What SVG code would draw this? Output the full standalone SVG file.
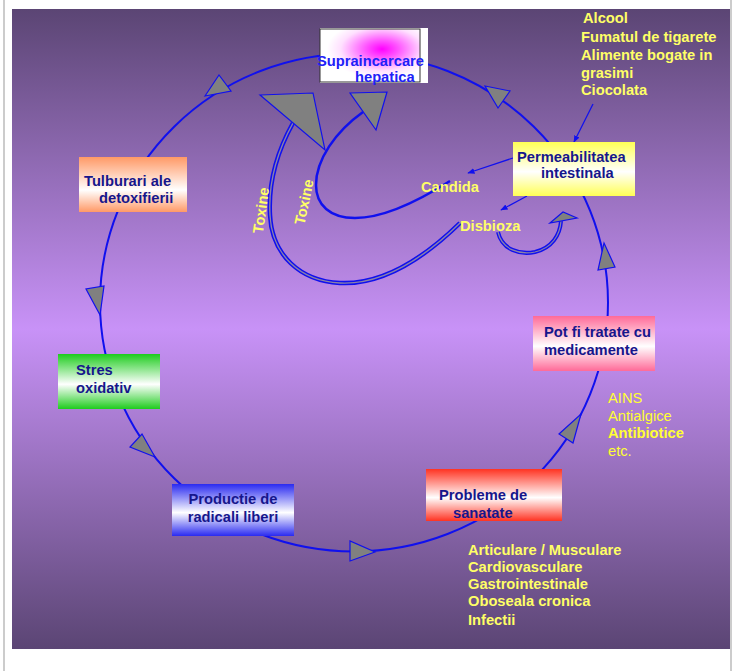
<svg xmlns="http://www.w3.org/2000/svg" width="740" height="671" viewBox="0 0 740 671">
<defs>
<linearGradient id="bg" x1="0" y1="0" x2="0" y2="1">
<stop offset="0" stop-color="#5b4574"/><stop offset="0.5" stop-color="#c892f7"/><stop offset="1" stop-color="#5b4574"/>
</linearGradient>
<linearGradient id="gY" x1="0" y1="0" x2="0" y2="1"><stop offset="0" stop-color="#ffff55"/><stop offset="0.55" stop-color="#ffffff"/><stop offset="1" stop-color="#ffff55"/></linearGradient>
<linearGradient id="gO" x1="0" y1="0" x2="0" y2="1"><stop offset="0" stop-color="#ff9966"/><stop offset="0.6" stop-color="#ffffff"/><stop offset="1" stop-color="#ff9966"/></linearGradient>
<linearGradient id="gG" x1="0" y1="0" x2="0" y2="1"><stop offset="0" stop-color="#1ecc1e"/><stop offset="0.55" stop-color="#ffffff"/><stop offset="1" stop-color="#1ecc1e"/></linearGradient>
<linearGradient id="gB" x1="0" y1="0" x2="0" y2="1"><stop offset="0" stop-color="#2a2af0"/><stop offset="0.55" stop-color="#ffffff"/><stop offset="1" stop-color="#2a2af0"/></linearGradient>
<linearGradient id="gR" x1="0" y1="0" x2="0" y2="1"><stop offset="0" stop-color="#ff3322"/><stop offset="0.55" stop-color="#ffffff"/><stop offset="1" stop-color="#ff3322"/></linearGradient>
<linearGradient id="gP" x1="0" y1="0" x2="0" y2="1"><stop offset="0" stop-color="#ff6a98"/><stop offset="0.55" stop-color="#ffffff"/><stop offset="1" stop-color="#ff6a98"/></linearGradient>
<radialGradient id="gM" cx="0.62" cy="0.38" r="0.55"><stop offset="0" stop-color="#ff00ff"/><stop offset="0.3" stop-color="#ff55ff"/><stop offset="0.75" stop-color="#ffe0ff"/><stop offset="1" stop-color="#ffffff"/></radialGradient>
<marker id="ah" viewBox="0 0 10 10" refX="9" refY="5" markerWidth="6" markerHeight="6" orient="auto"><path d="M0,1 L10,5 L0,9 z" fill="#1010ee"/></marker>
</defs>
<style>
.nt{font-family:"Liberation Sans",Arial,sans-serif;font-weight:bold;font-size:14.7px;fill:#16168c}
.yt{font-family:"Liberation Sans",Arial,sans-serif;font-weight:bold;font-size:14.7px;fill:#ffff66}
.yr{font-family:"Liberation Sans",Arial,sans-serif;font-size:14.7px;fill:#ffff33}
.ln{fill:none;stroke:#1010ee}
.tri{fill:#808080;stroke:#1010ee;stroke-width:1.2;stroke-linejoin:miter}
</style>
<rect x="0" y="0" width="740" height="671" fill="#ffffff"/>
<rect x="12" y="9" width="718" height="640" fill="url(#bg)"/>
<line x1="4" y1="0" x2="4" y2="671" stroke="#999999" stroke-width="1"/>
<line x1="731" y1="0" x2="731" y2="671" stroke="#999999" stroke-width="1"/>

<g id="connectors">
<ellipse class="ln" cx="354" cy="302.5" rx="254" ry="249" stroke-width="2"/>
<polygon class="tri" points="205,96 219,75 231,91"/>
<polygon class="tri" points="485,86 510,91 498,108"/>
<polygon class="tri" points="604,243 615,267 598,270"/>
<polygon class="tri" points="581,414 573,443 559,434"/>
<polygon class="tri" points="375,552 350,561 350,541"/>
<polygon class="tri" points="155,457 130,447 142,434"/>
<polygon class="tri" points="100,315 86,289 104,286"/>
<path class="ln" d="M460,223 C420,262 380,285 340,283 C300,281 272,255 270,215 C268,180 278,150 293,123" stroke-width="4.5"/>
<path d="M460,223 C420,262 380,285 340,283 C300,281 272,255 270,215 C268,180 278,150 293,123" fill="none" stroke="#8a82a8" stroke-width="1.4"/>
<polygon class="tri" points="260,95 313,93 325,150"/>
<path class="ln" d="M450,181 C420,200 385,218 355,218 C330,218 316,205 316,185 C316,160 335,132 363,112" stroke-width="2.5"/>
<polygon class="tri" points="350,93 387,92 376,130"/>
<path class="ln" d="M498,232 C502,250 520,255 535,252 C552,248 560,235 561,221" stroke-width="4"/>
<path d="M498,232 C502,250 520,255 535,252 C552,248 560,235 561,221" fill="none" stroke="#8a82a8" stroke-width="1.2"/>
<polygon class="tri" points="550,223 563,212 577,218"/>
<line class="ln" x1="513" y1="158" x2="468" y2="173" stroke-width="1.2" marker-end="url(#ah)"/>
<line class="ln" x1="527" y1="196" x2="501" y2="210" stroke-width="1.2" marker-end="url(#ah)"/>
<line class="ln" x1="593" y1="104" x2="574" y2="142" stroke-width="1.2" marker-end="url(#ah)"/>
</g>

<g id="supraincarcare">
<rect x="320" y="28" width="108" height="55" fill="#ffffff"/>
<rect x="320" y="29" width="100" height="53" fill="url(#gM)" stroke="#333333" stroke-width="1"/>
<text x="317" y="66" class="nt" style="fill:#2020f8">Supraincarcare</text>
<text x="355" y="82" class="nt" style="fill:#2020f8">hepatica</text>
</g>
<g id="permeabilitatea">
<rect x="513" y="142" width="122" height="54" fill="url(#gY)"/>
<text x="517" y="162" class="nt">Permeabilitatea</text>
<text x="541" y="178" class="nt">intestinala</text>
</g>
<g id="tulburari">
<rect x="79" y="157" width="108" height="55" fill="url(#gO)"/>
<text x="84" y="186" class="nt">Tulburari ale</text>
<text x="99" y="203" class="nt">detoxifierii</text>
</g>
<g id="stres">
<rect x="58" y="354" width="102" height="55" fill="url(#gG)"/>
<text x="76" y="375" class="nt">Stres</text>
<text x="76" y="393" class="nt">oxidativ</text>
</g>
<g id="productie">
<rect x="172" y="484" width="122" height="52" fill="url(#gB)"/>
<text x="233" y="504" class="nt" text-anchor="middle">Productie de</text>
<text x="233" y="522" class="nt" text-anchor="middle">radicali liberi</text>
</g>
<g id="probleme">
<rect x="426" y="469" width="136" height="52" fill="url(#gR)"/>
<text x="439" y="500" class="nt">Probleme de</text>
<text x="453" y="518" class="nt">sanatate</text>
</g>
<g id="potfi">
<rect x="533" y="316" width="122" height="55" fill="url(#gP)"/>
<text x="544" y="337" class="nt">Pot fi tratate cu</text>
<text x="544" y="355" class="nt">medicamente</text>
</g>

<g id="labels">
<text x="583" y="23" class="yt">Alcool</text>
<text x="581" y="41.5" class="yt">Fumatul de tigarete</text>
<text x="581" y="60" class="yt">Alimente bogate in</text>
<text x="581" y="77.5" class="yt">grasimi</text>
<text x="581" y="95" class="yt">Ciocolata</text>
<text x="608" y="403" class="yr">AINS</text>
<text x="608" y="421" class="yr">Antialgice</text>
<text x="608" y="438" class="yr" font-weight="bold">Antibiotice</text>
<text x="608" y="456" class="yr">etc.</text>
<text x="468" y="555" class="yt">Articulare / Musculare</text>
<text x="468" y="572" class="yt">Cardiovasculare</text>
<text x="468" y="589" class="yt">Gastrointestinale</text>
<text x="468" y="606" class="yt">Oboseala cronica</text>
<text x="468" y="625" class="yt">Infectii</text>
<text x="421" y="192" class="yt">Candida</text>
<text x="460" y="231" class="yt">Disbioza</text>
<text class="yt" text-anchor="middle" transform="translate(266,211) rotate(-82)">Toxine</text>
<text class="yt" text-anchor="middle" transform="translate(309,203) rotate(-78)">Toxine</text>
</g>
</svg>
